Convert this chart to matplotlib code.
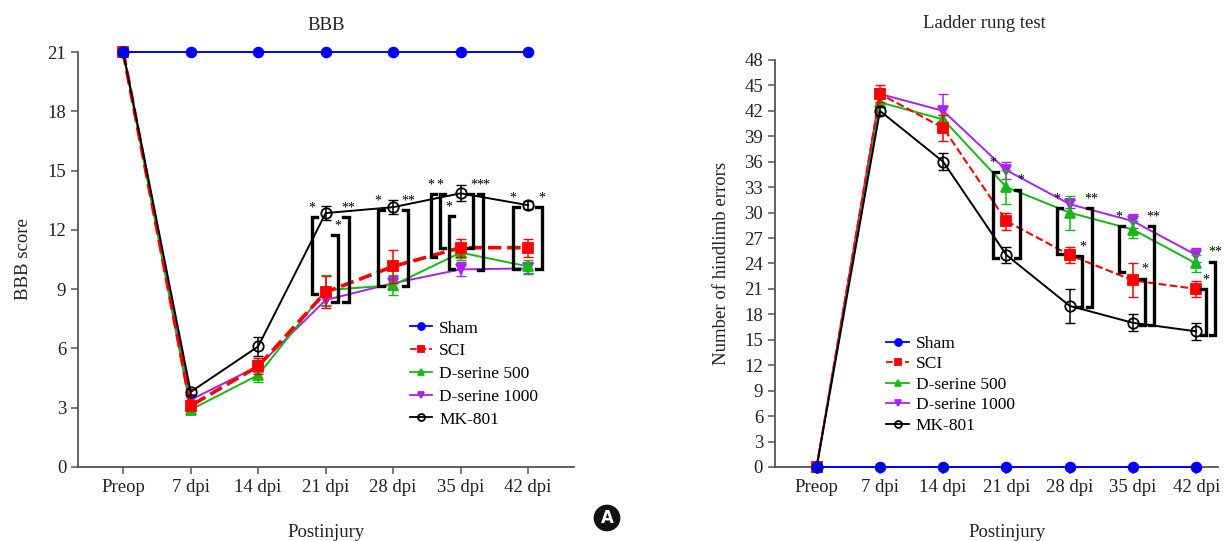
# plot.py
#   BBB score and ladder rung test after spinal cord injury, two panels side by side

import numpy as np
from matplotlib import pyplot as plt

plt.rcParams['font.family'] = ['Liberation Serif', 'DejaVu Serif']

DAYS = ['Preop', '7 dpi', '14 dpi', '21 dpi', '28 dpi', '35 dpi', '42 dpi']
GROUPS = ['Sham', 'SCI', 'D-serine 500', 'D-serine 1000', 'MK-801']

# BBB score (mean, sem)
bbb_sham   = [21, 21, 21, 21, 21, 21, 21]
bbb_sci    = [21, 3.1, 5.1, 8.85, 10.15, 11.1, 11.1]
bbb_ds500  = [21, 2.9, 4.65, 8.95, 9.2, 10.85, 10.15]
bbb_ds1000 = [21, 3.4, 5.1, 8.45, 9.3, 10.0, 10.05]
bbb_mk801  = [21, 3.8, 6.1, 12.85, 13.15, 13.85, 13.25]
bbb_sham_err   = [0, 0, 0, 0, 0, 0, 0]
bbb_sci_err    = [0, 0.2, 0.4, 0.8, 0.85, 0.45, 0.45]
bbb_ds500_err  = [0, 0.15, 0.35, 0.75, 0.5, 0.35, 0.35]
bbb_ds1000_err = [0, 0.15, 0.3, 0.3, 0.35, 0.35, 0.3]
bbb_mk801_err  = [0, 0.15, 0.5, 0.35, 0.35, 0.4, 0.2]

# ladder rung test, number of hindlimb errors (mean, sem)
lad_sham   = [0, 0, 0, 0, 0, 0, 0]
lad_sci    = [0, 44, 40, 29, 25, 22, 21]
lad_ds500  = [0, 43, 41, 33, 30, 28, 24]
lad_ds1000 = [0, 44, 42, 35, 31, 29, 25]
lad_mk801  = [0, 42, 36, 25, 19, 17, 16]
lad_sham_err   = [0, 0, 0, 0, 0, 0, 0]
lad_sci_err    = [0, 1.0, 1.5, 1.0, 1.0, 2.0, 0.9]
lad_ds500_err  = [0, 0.5, 0.5, 2.0, 2.0, 1.0, 1.0]
lad_ds1000_err = [0, 0.5, 2.0, 1.0, 0.5, 0.8, 0.8]
lad_mk801_err  = [0, 0.5, 1.0, 1.0, 2.0, 1.0, 1.0]

# significance brackets: (day index, x offset, top, bottom, side, stars)
bbb_brackets = [
    (3, -0.21, 12.65, 8.75, '[', '*'),
    (3, 0.18, 11.74, 8.35, ']', '*'),
    (3, 0.34, 12.65, 8.35, ']', '**'),
    (4, -0.22, 13.0, 9.16, '[', '*'),
    (4, 0.22, 13.0, 9.16, ']', '**'),
    (5, -0.44, 13.82, 10.63, '[', '*'),
    (5, -0.31, 13.82, 11.08, '[', '*'),
    (5, -0.18, 12.7, 10.02, '[', '*'),
    (5, 0.19, 13.82, 11.08, ']', '*'),
    (5, 0.33, 13.82, 9.97, ']', '**'),
    (6, -0.22, 13.16, 10.02, '[', '*'),
    (6, 0.2, 13.16, 10.02, ']', '*'),
]
lad_brackets = [
    (3, -0.22, 34.8, 24.6, '[', '*'),
    (3, 0.22, 32.7, 24.6, ']', '*'),
    (4, -0.2, 30.5, 25.1, '[', '*'),
    (4, 0.2, 24.9, 18.9, ']', '*'),
    (4, 0.35, 30.5, 18.9, ']', '**'),
    (5, -0.22, 28.4, 23.0, '[', '*'),
    (5, 0.19, 22.2, 16.7, ']', '*'),
    (5, 0.33, 28.4, 16.7, ']', '**'),
    (6, 0.15, 21.0, 15.6, ']', '*'),
    (6, 0.3, 24.2, 15.6, ']', '**'),
]

STYLE = {
    'Sham':          dict(color='#0000ff', marker='o', ms=7, mfc='#0000ff', ls='-', z=6),
    'SCI':           dict(color='#ff0000', marker='s', ms=7, mfc='#ff0000', ls='--', z=4),
    'D-serine 500':  dict(color='#11bb11', marker='^', ms=7, mfc='#11bb11', ls='-', z=3),
    'D-serine 1000': dict(color='#aa22ee', marker='v', ms=7, mfc='#aa22ee', ls='-', z=2),
    'MK-801':        dict(color='black',   marker='o', ms=7.5, mfc='none',  ls='-', z=5),
}


def draw_panel(ax, series, errors, brackets, ylim, yticks, title, ylabel,
               dashlw, title_pad, xlim, title_x=0.5, xlabel_x=0.5):
    x = np.arange(len(DAYS))
    for name, y, e in zip(GROUPS, series, errors):
        s = STYLE[name]
        lw = dashlw if name == 'SCI' else 1.4
        ax.errorbar(x, y, yerr=e, fmt='none', ecolor=s['color'],
                    capsize=3.5, elinewidth=1.1, zorder=s['z'], clip_on=False)
        ax.plot(x, y, color=s['color'], marker=s['marker'], ms=s['ms'],
                mfc=s['mfc'], mec=s['color'], mew=1.3, ls=s['ls'], lw=lw,
                zorder=s['z'], label=name, clip_on=False)

    for day, dx, top, bot, side, stars in brackets:
        bx = day + dx
        arm = 0.08 if side == '[' else -0.08
        ax.plot([bx + arm, bx, bx, bx + arm], [top, top, bot, bot],
                color='black', lw=2.4, solid_joinstyle='miter', zorder=7)
        ax.annotate(stars, (bx, top), xytext=(0, 2), textcoords='offset points',
                    ha='center', va='bottom', fontsize=10, zorder=8)

    ax.set_xlim(*xlim)
    ax.set_ylim(*ylim)
    ax.set_xticks(x)
    ax.set_xticklabels(DAYS)
    ax.set_yticks(yticks)
    ax.spines['right'].set_visible(False)
    ax.spines['top'].set_visible(False)
    for sp in ('left', 'bottom'):
        ax.spines[sp].set_color('#555555')
        ax.spines[sp].set_linewidth(1.3)
    ax.tick_params(direction='out', length=5, width=1.1, color='#555555',
                   labelsize=13.5, labelcolor='#222222')
    ax.set_title(title, fontsize=13.5, color='#222222', pad=title_pad, x=title_x)
    ax.set_xlabel('Postinjury', fontsize=13.5, color='#222222', x=xlabel_x)
    ax.set_ylabel(ylabel, fontsize=13.5, color='#222222')


fig = plt.figure(figsize=(12.3, 5.41), dpi=100)
ax1 = fig.add_axes([0.0634, 0.1368, 0.4033, 0.767])   # left, bottom, width, height
ax2 = fig.add_axes([0.630, 0.1368, 0.360, 0.7523])

draw_panel(ax1,
           [bbb_sham, bbb_sci, bbb_ds500, bbb_ds1000, bbb_mk801],
           [bbb_sham_err, bbb_sci_err, bbb_ds500_err, bbb_ds1000_err, bbb_mk801_err],
           bbb_brackets, (0, 21), np.arange(0, 22, 3), 'BBB', 'BBB score',
           2.6, 16, (-0.67, 6.68))
draw_panel(ax2,
           [lad_sham, lad_sci, lad_ds500, lad_ds1000, lad_mk801],
           [lad_sham_err, lad_sci_err, lad_ds500_err, lad_ds1000_err, lad_mk801_err],
           lad_brackets, (0, 48), np.arange(0, 49, 3), 'Ladder rung test',
           'Number of hindlimb errors', 1.5, 23, (-0.66, 6.34),
           title_x=0.472, xlabel_x=0.524)

ax1.xaxis.labelpad = 20
ax2.xaxis.labelpad = 20
ax1.yaxis.labelpad = 11
ax2.yaxis.labelpad = 10

for ax, anchor, spacing in ((ax1, (0.655, 0.37), 0.38), (ax2, (0.236, 0.34), 0.25)):
    leg = ax.legend(loc='upper left', bbox_to_anchor=anchor, frameon=False,
                    fontsize=12.5, handlelength=1.3, handletextpad=0.4,
                    labelspacing=spacing, borderaxespad=0)
    for h in leg.legend_handles:
        h.set_markersize(5)
        h.set_linewidth(1.3)

# panel badge
fig.text(607 / 1230, 1 - 518 / 541, 'A', color='white', ha='center',
         va='center', fontsize=12, fontweight='bold', family='DejaVu Sans',
         bbox=dict(boxstyle='circle,pad=0.22', fc='#111111', ec='#111111'))

plt.savefig('out.png', dpi=100)
